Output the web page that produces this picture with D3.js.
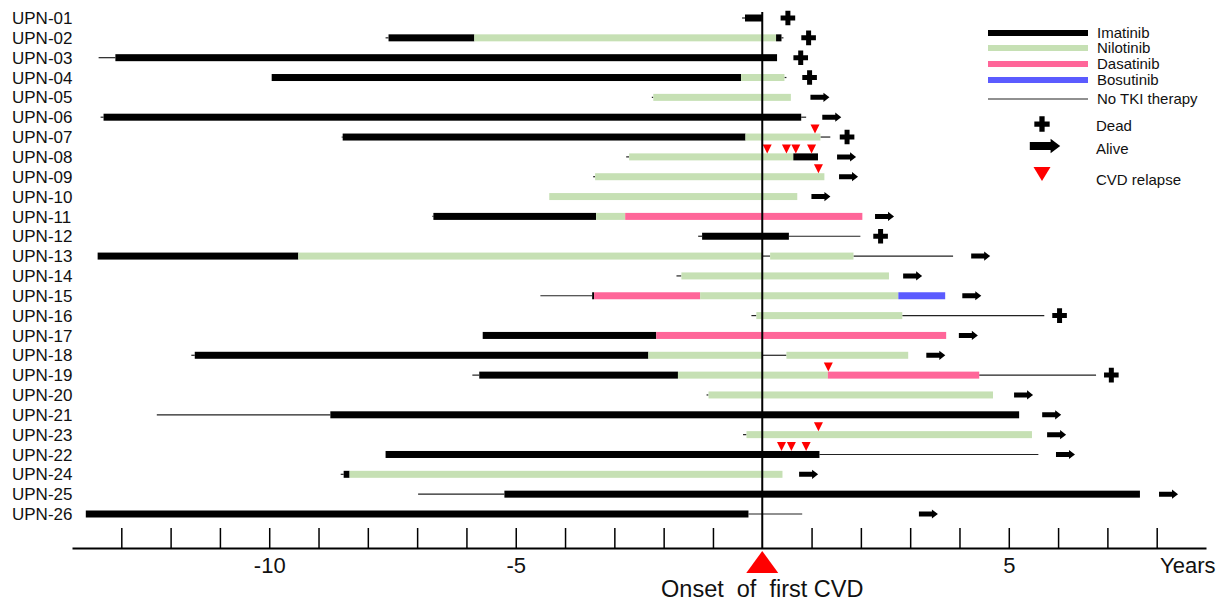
<!DOCTYPE html>
<html>
<head>
<meta charset="utf-8">
<script src="https://cdn.jsdelivr.net/npm/d3@7"></script>
<style>
  body { margin: 0; background: #fff; }
  svg { display: block; font-family: "Liberation Sans", Arial, sans-serif; }
</style>
</head>
<body>
<svg id="chart" width="1230" height="606"></svg>
<script>
// Patients, top to bottom (order as in the figure)
const patients = ["UPN-01","UPN-02","UPN-03","UPN-04","UPN-05","UPN-06","UPN-07","UPN-08","UPN-09","UPN-10",
  "UPN-11","UPN-12","UPN-13","UPN-14","UPN-15","UPN-16","UPN-17","UPN-18","UPN-19","UPN-20",
  "UPN-21","UPN-23","UPN-22","UPN-24","UPN-25","UPN-26"];

// Treatment periods per patient: [therapy, start year, end year], years relative to first CVD
const segments = [
  [["none",-0.41,-0.35],["ima",-0.35,0]],
  [["none",-7.64,-7.58],["ima",-7.58,-5.84],["nilo",-5.84,0.28],["ima",0.28,0.39],["none",0.39,0.43]],
  [["none",-13.46,-13.12],["ima",-13.12,0.30]],
  [["ima",-9.95,-0.43],["nilo",-0.43,0.45],["none",0.45,0.49]],
  [["none",-2.24,-2.21],["nilo",-2.21,0.58]],
  [["none",-13.42,-13.36],["ima",-13.36,0.79],["none",0.79,0.89]],
  [["none",-8.53,-8.51],["ima",-8.51,-0.34],["nilo",-0.34,1.18],["none",1.18,1.38]],
  [["none",-2.76,-2.70],["nilo",-2.70,0.63],["ima",0.63,1.13]],
  [["none",-3.43,-3.39],["nilo",-3.39,1.26]],
  [["nilo",-4.32,0.71]],
  [["none",-6.69,-6.67],["ima",-6.67,-3.37],["nilo",-3.37,-2.78],["dasa",-2.78,2.03]],
  [["none",-1.30,-1.22],["ima",-1.22,0.54],["none",0.54,1.99]],
  [["ima",-13.48,-9.41],["nilo",-9.41,0],["none",0,0.16],["nilo",0.16,1.85],["none",1.85,3.87]],
  [["none",-1.74,-1.64],["nilo",-1.64,2.57]],
  [["none",-4.50,-3.45],["ima",-3.45,-3.41],["dasa",-3.41,-1.26],["nilo",-1.26,2.76],["bosu",2.76,3.71]],
  [["none",-0.22,-0.12],["nilo",-0.12,2.84],["none",2.84,5.72]],
  [["ima",-5.67,-2.15],["dasa",-2.15,3.73]],
  [["none",-11.58,-11.51],["ima",-11.51,-2.31],["nilo",-2.31,0.01],["none",0.01,0.49],["nilo",0.49,2.96]],
  [["none",-5.88,-5.74],["ima",-5.74,-1.71],["nilo",-1.71,1.33],["dasa",1.33,4.40],["none",4.40,6.77]],
  [["none",-1.13,-1.09],["nilo",-1.09,4.68]],
  [["none",-12.28,-8.76],["ima",-8.76,5.21]],
  [["none",-0.39,-0.32],["nilo",-0.32,5.47]],
  [["ima",-7.64,1.16],["none",1.16,5.60]],
  [["none",-8.55,-8.49],["ima",-8.49,-8.37],["nilo",-8.37,0.41]],
  [["none",-6.98,-5.23],["ima",-5.23,7.66]],
  [["ima",-13.72,-0.28],["none",-0.28,0.81]]
];

// Outcome at last follow-up and where its marker sits (years)
const outcomes = ["dead","dead","dead","dead","alive","alive","dead","alive","alive","alive",
  "alive","dead","alive","alive","alive","dead","alive","alive","dead","alive",
  "alive","alive","alive","alive","alive","alive"];
const outcomeAt = [0.52,0.94,0.78,0.96,1.17,1.41,1.72,1.71,1.75,1.19,
  2.48,2.40,4.43,3.05,4.25,6.03,4.18,3.52,7.08,5.30,
  5.87,5.97,6.15,0.94,8.24,3.37];

// CVD relapses (years)
const relapses = [[],[],[],[],[],[],[1.07],[0.10,0.49,0.68,1.00],[1.14],[],
  [],[],[],[],[],[],[],[],[1.34],[],
  [],[1.14],[0.39,0.59,0.89],[],[],[]];

const therapyColor = {ima: "#000000", nilo: "#c6e0b4", dasa: "#ff6699", bosu: "#5b5bff", none: "#222222"};
const legendTherapies = [["ima","Imatinib"],["nilo","Nilotinib"],["dasa","Dasatinib"],["bosu","Bosutinib"],["none","No TKI therapy"]];
const minorTicks = d3.range(-13, 9).filter(v => v !== 0);
const labelTicks = [-10, -5, 5];

const svg = d3.select("#chart");

const x = d3.scaleLinear().domain([-14, 9]).range([72, 1206]);
const y = d3.scalePoint().domain(patients).range([18, 514]);
const axisY = 548;

// shapes
const arrowPath = (s) => {
  const L = 9.5 * s, sh = 2.5 * s, hd = 4.6 * s, hx = 3.5 * s;
  return `M${-L},${-sh}L${hx},${-sh}L${hx},${-hd}L${L},0L${hx},${hd}L${hx},${sh}L${-L},${sh}Z`;
};
const crossPath = (s) => {
  const a = 7.3 * s, t = 2.5 * s;
  return `M${-t},${-a}H${t}V${-t}H${a}V${t}H${t}V${a}H${-t}V${t}H${-a}V${-t}H${-t}Z`;
};
const triPath = (w, h) => `M${-w/2},0L${w/2},0L0,${h}Z`;

// row labels
svg.append("g").selectAll("text")
  .data(patients)
  .join("text")
  .attr("x", 12)
  .attr("y", d => y(d))
  .attr("dy", "0.36em")
  .attr("font-size", "17px")
  .attr("fill", "#111")
  .text(d => d);

// flatten segments
const segs = [];
segments.forEach((list, i) => list.forEach(s => segs.push({p: patients[i], type: s[0], a: s[1], b: s[2]})));

// thin lines (no TKI)
svg.append("g").selectAll("line")
  .data(segs.filter(d => d.type === "none"))
  .join("line")
  .attr("x1", d => x(d.a))
  .attr("x2", d => x(d.b))
  .attr("y1", d => y(d.p))
  .attr("y2", d => y(d.p))
  .attr("stroke", therapyColor.none)
  .attr("stroke-width", 1.2);

// thick bars
svg.append("g").selectAll("rect")
  .data(segs.filter(d => d.type !== "none"))
  .join("rect")
  .attr("x", d => x(d.a))
  .attr("width", d => x(d.b) - x(d.a))
  .attr("y", d => y(d.p) - 3.5)
  .attr("height", 7)
  .attr("fill", d => therapyColor[d.type]);

// relapse triangles
const rel = [];
relapses.forEach((list, i) => list.forEach(v => rel.push({p: patients[i], v})));
svg.append("g").selectAll("path")
  .data(rel)
  .join("path")
  .attr("transform", d => `translate(${x(d.v)},${y(d.p) - 12.5})`)
  .attr("d", triPath(9, 9))
  .attr("fill", "#ff0000");

// outcome markers
svg.append("g").selectAll("path")
  .data(patients)
  .join("path")
  .attr("transform", (d, i) => `translate(${x(outcomeAt[i])},${y(d)})`)
  .attr("d", (d, i) => outcomes[i] === "dead" ? crossPath(1) : arrowPath(1))
  .attr("fill", "#000");

// zero line
svg.append("line")
  .attr("x1", x(0)).attr("x2", x(0))
  .attr("y1", 12).attr("y2", axisY)
  .attr("stroke", "#000")
  .attr("stroke-width", 2);

// axis with upward ticks
const axisG = svg.append("g")
  .attr("transform", `translate(0,${axisY})`)
  .call(d3.axisTop(x).tickValues(minorTicks).tickSize(20).tickSizeOuter(0).tickFormat(""));
axisG.select(".domain").attr("stroke-width", 2);
axisG.selectAll(".tick line").attr("stroke-width", 1.5);

const labelG = svg.append("g")
  .attr("transform", `translate(0,${axisY})`)
  .call(d3.axisBottom(x).tickValues(labelTicks).tickSize(0).tickPadding(9).tickFormat(d => String(d)));
labelG.select(".domain").remove();
labelG.selectAll("text")
  .attr("font-size", "22px")
  .attr("font-family", "Liberation Sans, Arial, sans-serif")
  .attr("fill", "#111");

svg.append("text")
  .attr("x", 1160)
  .attr("y", 573)
  .attr("font-size", "22px")
  .attr("fill", "#111")
  .text("Years");

// onset marker
svg.append("path")
  .attr("transform", `translate(${x(0)},551)`)
  .attr("d", "M0,0L16,22L-16,22Z")
  .attr("fill", "#ff0000");

svg.append("text")
  .attr("x", x(0))
  .attr("y", 597)
  .attr("text-anchor", "middle")
  .attr("font-size", "23.5px")
  .attr("fill", "#111")
  .style("white-space", "pre")
  .text("Onset  of  first CVD");

// legend
const legend = svg.append("g");
legend.selectAll("line")
  .data(legendTherapies)
  .join("line")
  .attr("x1", 988).attr("x2", 1088)
  .attr("y1", (d, i) => [33, 48, 64, 80, 99][i])
  .attr("y2", (d, i) => [33, 48, 64, 80, 99][i])
  .attr("stroke", d => therapyColor[d[0]])
  .attr("stroke-width", d => d[0] === "none" ? 1.2 : 6);
legend.selectAll("text.th")
  .data(legendTherapies)
  .join("text")
  .attr("class", "th")
  .attr("x", 1097)
  .attr("y", (d, i) => [33, 48, 64, 80, 99][i])
  .attr("dy", "0.36em")
  .attr("font-size", "15px")
  .attr("fill", "#111")
  .text(d => d[1]);

legend.append("path").attr("transform", "translate(1042,124)").attr("d", crossPath(1.05)).attr("fill", "#000");
legend.append("path").attr("transform", "translate(1045,146)").attr("d", arrowPath(1.6)).attr("fill", "#000");
legend.append("path").attr("transform", "translate(1042,167)").attr("d", triPath(17, 14)).attr("fill", "#ff0000");
[["Dead", 126], ["Alive", 149], ["CVD relapse", 180]].forEach(([t, yy]) => {
  legend.append("text")
    .attr("x", 1096).attr("y", yy)
    .attr("dy", "0.36em")
    .attr("font-size", "15px")
    .attr("fill", "#111")
    .text(t);
});
</script>
</body>
</html>
